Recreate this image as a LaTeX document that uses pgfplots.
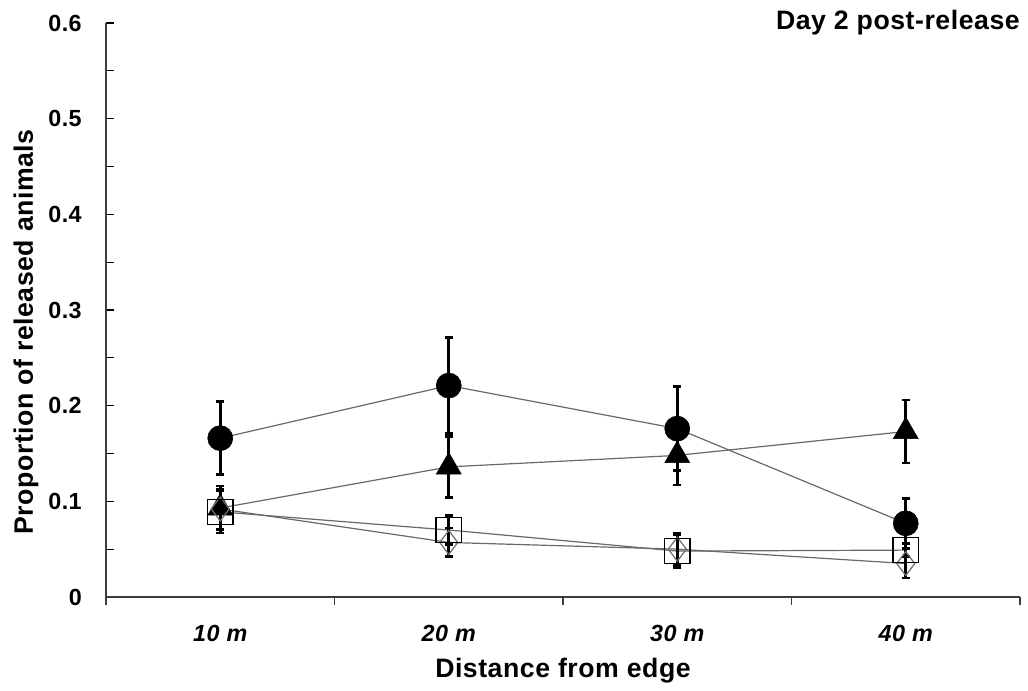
\documentclass[border=0pt]{standalone}
\usepackage{pgfplots}
\pgfplotsset{compat=1.18}
\usepackage{pgfplotstable}
\usepackage{fontspec}
\setmainfont{Liberation Sans}[LetterSpace=2]
\definecolor{linegray}{RGB}{105,105,105}
\definecolor{axisgray}{RGB}{60,60,60}
\definecolor{diamgray}{RGB}{110,110,110}

\pgfplotstableread{
x y e
0 0.166 0.038
1 0.221 0.050
2 0.176 0.044
3 0.077 0.026
}\circdata
\pgfplotstableread{
x y e
0 0.093 0.023
1 0.136 0.032
2 0.148 0.031
3 0.173 0.033
}\tridata
\pgfplotstableread{
x y e
0 0.089 0.022
1 0.070 0.015
2 0.048 0.017
3 0.049 0.007
}\sqdata
\pgfplotstableread{
x y e
0 0.092 0.021
1 0.057 0.015
2 0.050 0.017
3 0.035 0.015
}\diadata

\begin{document}
\begin{tikzpicture}
\begin{axis}[
  at={(0pt,0pt)}, anchor=south west,
  scale only axis, width=685.5pt, height=430.5pt,
  xmin=-0.5, xmax=3.5, ymin=0, ymax=0.6,
  axis x line*=bottom, axis y line*=left,
  axis line style={axisgray, line width=1.1pt, -},
  clip=false,
  xtick={0,1,2,3},
  xticklabels={10 m,20 m,30 m,40 m},
  minor xtick={-0.5,0.5,1.5,2.5,3.5},
  ytick={0,0.1,0.2,0.3,0.4,0.5,0.6},
  yticklabels={0,0.1,0.2,0.3,0.4,0.5,0.6},
  minor ytick={0.05,0.15,0.25,0.35,0.45,0.55},
  tick align=inside,
  major tick length=6pt, minor tick length=6pt,
  major x tick style={draw=none},
  minor x tick style={axisgray, line width=1pt, yshift=-6pt},
  ytick style={black, line width=0.9pt},
  xticklabel style={font=\fontsize{17.5}{19}\selectfont\bfseries\itshape, anchor=base, yshift=-33.75pt, inner sep=0pt},
  yticklabel style={font=\fontsize{17.5}{19}\selectfont\bfseries, anchor=east, inner sep=0pt, xshift=-18pt},
  every axis x label/.style={at={(axis description cs:0.5,0)}, anchor=base, yshift=-60.75pt, font=\fontsize{20}{22}\selectfont\bfseries},
  every axis y label/.style={at={(axis description cs:-0.0799,0.4617)}, anchor=base, rotate=90, font=\fontsize{20}{22}\selectfont\bfseries},
  xlabel={Distance from edge},
  ylabel={Proportion of released animals},
]
% connecting lines
\addplot[linegray, line width=0.9pt, forget plot] table[x=x,y=y] {\circdata};
\addplot[linegray, line width=0.9pt, forget plot] table[x=x,y=y] {\tridata};
\addplot[linegray, line width=0.9pt, forget plot] table[x=x,y=y] {\sqdata};
\addplot[linegray, line width=0.9pt, forget plot] table[x=x,y=y] {\diadata};
% markers with error bars
\addplot[only marks, mark=*, mark size=9.4pt, mark options={black, fill=black},
  error bars/.cd, y dir=both, y explicit,
  error bar style={black, line width=2pt},
  error mark options={rotate=90, black, mark size=3pt, line width=2pt}]
  table[x=x,y=y,y error=e] {\circdata};
\addplot[only marks, mark=triangle*, mark size=10.8pt, mark options={black, fill=black},
  error bars/.cd, y dir=both, y explicit,
  error bar style={black, line width=2pt},
  error mark options={rotate=90, black, mark size=3pt, line width=2pt}]
  table[x=x,y=y,y error=e] {\tridata};
\addplot[only marks, mark=diamond, mark size=9pt, mark options={diamgray, line width=0.9pt},
  error bars/.cd, y dir=both, y explicit,
  error bar style={black, line width=2pt},
  error mark options={rotate=90, black, mark size=3pt, line width=2pt}]
  table[x=x,y=y,y error=e] {\diadata};
\addplot[only marks, mark=square, mark size=9.4pt, mark options={black, line width=1.1pt},
  error bars/.cd, y dir=both, y explicit,
  error bar style={black, line width=2pt},
  error mark options={rotate=90, black, mark size=3pt, line width=2pt}]
  table[x=x,y=y,y error=e] {\sqdata};
\node[anchor=base east, inner sep=0pt, font=\fontsize{20}{22}\selectfont\bfseries]
  at (rel axis cs:1,1) [yshift=-5.25pt] {Day 2 post-release};
\end{axis}
\pgfresetboundingbox
\path[use as bounding box] (-79.5pt,-70.5pt) rectangle (691.5pt,447.75pt);
\end{tikzpicture}
\end{document}
